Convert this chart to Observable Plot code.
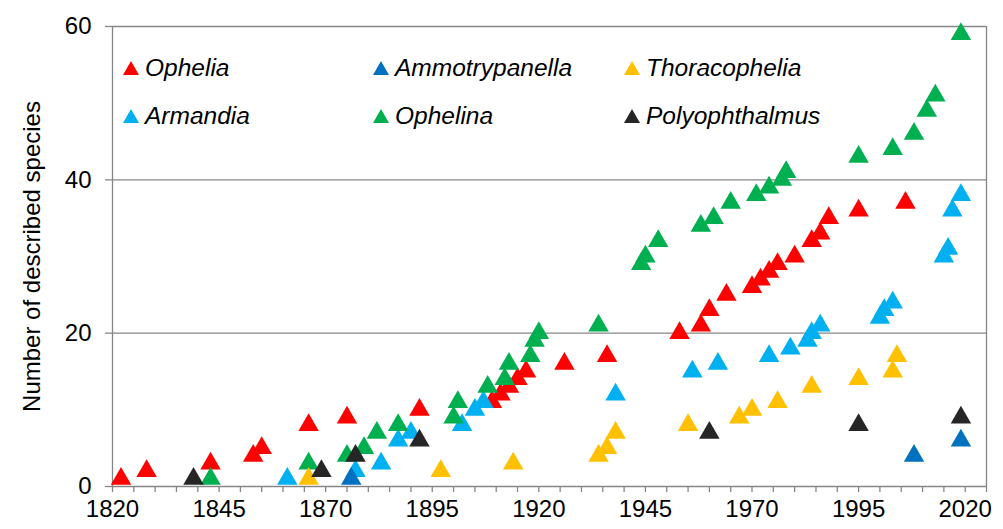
<!DOCTYPE html>
<html>
<head>
<meta charset="utf-8">
<script src="https://cdn.jsdelivr.net/npm/d3@7"></script>
<script src="https://cdn.jsdelivr.net/npm/@observablehq/plot@0.6"></script>
<style>
  html, body { margin: 0; padding: 0; background: #fff; }
  #wrap { position: relative; width: 1003px; height: 529px; font-family: "Liberation Sans", Arial, sans-serif; }
  .item { position: absolute; display: flex; align-items: center; height: 28px; font-size: 24.5px; font-style: italic; color: #000; white-space: nowrap; }
  .tri { width: 0; height: 0; border-left: 8px solid transparent; border-right: 8px solid transparent; border-bottom: 14px solid; margin-right: 6px; }
</style>
</head>
<body>
<div id="wrap"></div>
<script>
// Genera (series order) and colours
const genera = ["Ophelia", "Armandia", "Ammotrypanella", "Ophelina", "Thoracophelia", "Polyophthalmus"];
const colors = ["#FF0000", "#00B0F0", "#0070C0", "#00B050", "#FFC000", "#262626"];

// Cumulative number of described species: [year, count]
const ophelia = [[1822,1],[1828,2],[1843,3],[1853,4],[1855,5],[1866,8],[1875,9],[1892,10],[1909,11],[1911,12],[1913,13],[1915,14],[1917,15],[1926,16],[1936,17],[1953,20],[1958,21],[1960,23],[1964,25],[1970,26],[1972,27],[1974,28],[1976,29],[1980,30],[1984,32],[1986,33],[1988,35],[1995,36],[2006,37]];
const armandia = [[1861,1],[1877,2],[1883,3],[1887,6],[1890,7],[1902,8],[1905,10],[1907,11],[1938,12],[1956,15],[1962,16],[1974,17],[1979,18],[1983,19],[1984,20],[1986,21],[2000,22],[2001,23],[2003,24],[2015,30],[2016,31],[2017,36],[2019,38]];
const ammotrypanella = [[1876,1],[2008,4],[2019,6]];
const ophelina = [[1843,1],[1866,3],[1875,4],[1879,5],[1882,7],[1887,8],[1900,9],[1901,11],[1908,13],[1912,14],[1913,16],[1918,17],[1919,19],[1920,20],[1934,21],[1944,29],[1945,30],[1948,32],[1958,34],[1961,35],[1965,37],[1971,38],[1974,39],[1977,40],[1978,41],[1995,43],[2003,44],[2008,46],[2011,49],[2013,51],[2019,59]];
const thoracophelia = [[1866,1],[1897,2],[1914,3],[1934,4],[1936,5],[1938,7],[1955,8],[1967,9],[1970,10],[1976,11],[1984,13],[1995,14],[2003,15],[2004,17]];
const polyophthalmus = [[1839,1],[1869,2],[1877,4],[1892,6],[1960,7],[1995,8],[2019,9]];

// Axis ticks
const yTicks = [0, 20, 40, 60];
const xTicks = d3.range(1820, 2026, 5);
const xLabelEvery = 25;

const series = [ophelia, armandia, ammotrypanella, ophelina, thoracophelia, polyophthalmus];
const table = series.flatMap((s, i) => s.map(([year, count]) => ({genus: genera[i], year, count})));

const grid = "#868686";

const chart = Plot.plot({
  width: 1003,
  height: 529,
  marginLeft: 112,
  marginRight: 17,
  marginTop: 26,
  marginBottom: 43,
  style: {fontFamily: "'Liberation Sans', Arial, sans-serif", fontSize: "24px", color: "#000", background: "#fff", overflow: "visible"},
  x: {domain: [1820, 2025]},
  y: {domain: [0, 60]},
  color: {domain: genera, range: colors},
  marks: [
    Plot.ruleY(yTicks.slice(1), {stroke: grid, strokeWidth: 1.3}),
    Plot.ruleX([2025], {stroke: grid, strokeWidth: 1.3}),
    Plot.ruleX([1820], {stroke: grid, strokeWidth: 1.3}),
    Plot.ruleY([0], {stroke: grid, strokeWidth: 1.3}),
    Plot.axisY({ticks: yTicks, tickSize: 7, tickPadding: 14, stroke: grid, strokeWidth: 1.3, fontSize: 24,
      label: "Number of described species", labelAnchor: "center", labelArrow: false, labelOffset: 90}),
    Plot.axisX({ticks: xTicks, tickSize: 6, tickPadding: 7, stroke: grid, strokeWidth: 1.3, fontSize: 24,
      tickFormat: d => ((d - 1820) % xLabelEvery === 0 ? String(d) : ""), label: null}),
    Plot.dot(table, {x: "year", y: "count", fill: "genus", symbol: "triangle", r: 7.6})
  ]
});

const wrap = document.getElementById("wrap");
wrap.appendChild(chart);

// Legend (column-major, like the original)
const legendCols = [123, 373, 624];
const legendRows = [54, 102];
genera.forEach((g, i) => {
  const col = Math.floor(i / 2), row = i % 2;
  const item = document.createElement("div");
  item.className = "item";
  item.style.left = legendCols[col] + "px";
  item.style.top = legendRows[row] + "px";
  const tri = document.createElement("span");
  tri.className = "tri";
  tri.style.borderBottomColor = colors[i];
  const label = document.createElement("span");
  label.textContent = g;
  item.appendChild(tri);
  item.appendChild(label);
  wrap.appendChild(item);
});
</script>
</body>
</html>
